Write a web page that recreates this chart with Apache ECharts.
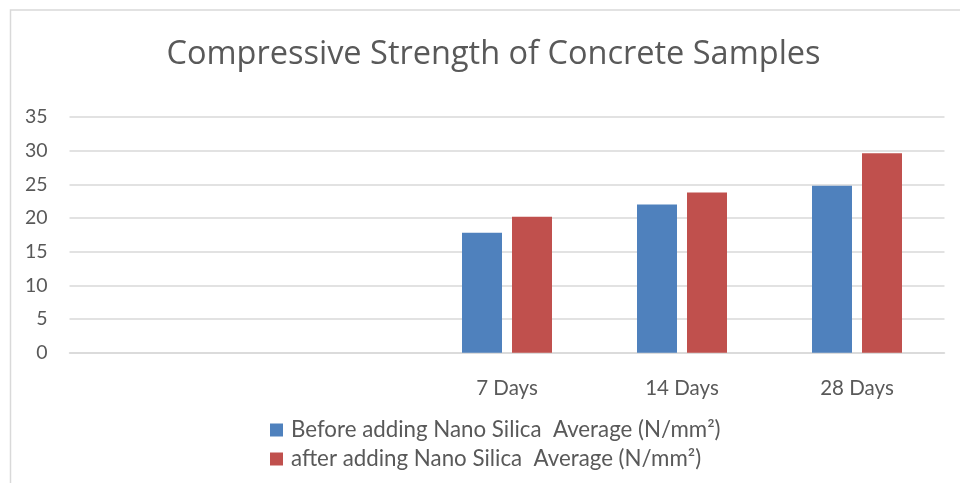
<!DOCTYPE html>
<html>
<head>
<meta charset="utf-8">
<script src="https://cdn.jsdelivr.net/npm/echarts@6/dist/echarts.min.js"></script>
<style>
html,body{margin:0;padding:0;background:#fff;}
#main{width:960px;height:483px;}
</style>
</head>
<body>
<div id="main"></div>
<script>
var categories = ['', '', '7 Days', '14 Days', '28 Days'];
var beforeValues = [null, null, 17.8, 22.0, 24.8];
var afterValues = [null, null, 20.2, 23.8, 29.6];
var seriesNames = ['Before adding Nano Silica  Average (N/mm\u00B2)', 'after adding Nano Silica  Average (N/mm\u00B2)'];
var yTicks = {min: 0, max: 35, interval: 5};

var chart = echarts.init(document.getElementById('main'), null, {renderer: 'canvas'});
var font = 'Lato';
chart.setOption({
  animation: false,
  backgroundColor: '#ffffff',
  title: {
    text: 'Compressive Strength of Concrete Samples',
    left: 488.5,
    top: 33,
    textAlign: 'center',
    textStyle: {fontFamily: 'Open Sans', fontSize: 32.5, fontWeight: 'normal', color: '#595959'}
  },
  graphic: [{
    type: 'polyline',
    shape: {points: [[10.5, 483], [10.5, 10], [960, 10]]},
    style: {stroke: '#d9d9d9', lineWidth: 1.5, fill: null}
  }],
  grid: {left: 69.5, right: 15.5, top: 117, bottom: 130.3, containLabel: false},
  legend: {
    orient: 'vertical',
    left: 265,
    top: 414,
    itemWidth: 13,
    itemHeight: 13,
    itemGap: 7,
    icon: 'rect',
    textStyle: {fontFamily: font, fontSize: 22.3, color: '#595959', lineHeight: 22, padding: [0, 0, 0, 3]},
    data: seriesNames
  },
  xAxis: {
    type: 'category',
    data: categories,
    axisLine: {lineStyle: {color: '#d9d9d9', width: 1.5}},
    axisTick: {show: false},
    axisLabel: {fontFamily: font, fontSize: 20.5, color: '#595959', margin: 25, interval: 0}
  },
  yAxis: {
    type: 'value',
    min: yTicks.min,
    max: yTicks.max,
    interval: yTicks.interval,
    axisLine: {show: false},
    axisTick: {show: false},
    axisLabel: {fontFamily: font, fontSize: 19.5, color: '#595959', margin: 22},
    splitLine: {lineStyle: {color: '#d9d9d9', width: 1.5}}
  },
  series: [
    {name: seriesNames[0], type: 'bar', data: beforeValues, barWidth: 40, barGap: '25%', itemStyle: {color: '#4f81bd'}},
    {name: seriesNames[1], type: 'bar', data: afterValues, barWidth: 40, barGap: '25%', itemStyle: {color: '#c0504d'}}
  ]
});
</script>
</body>
</html>
